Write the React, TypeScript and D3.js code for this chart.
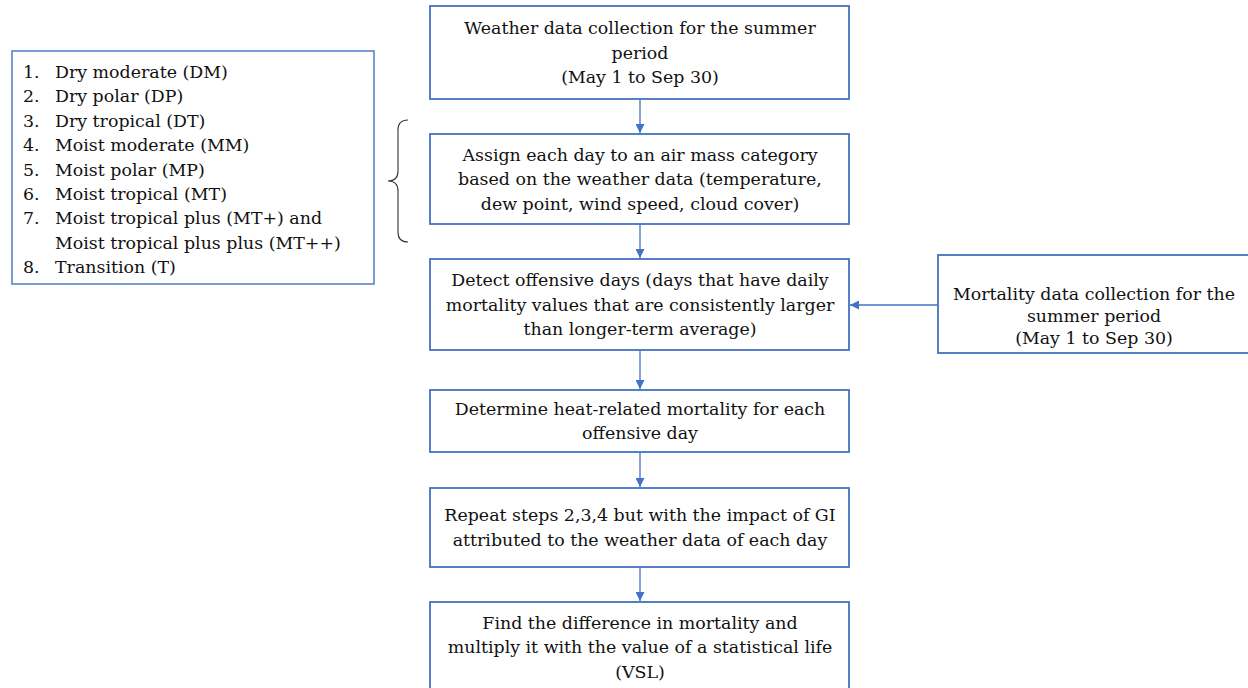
import React, { useEffect, useRef } from 'react';
import * as d3 from 'd3';

// flow steps (center column), one entry per box, lines as drawn
const stepLines: string[][] = [
  ['Weather data collection for the summer', 'period', '(May 1 to Sep 30)'],
  ['Assign each day to an air mass category', 'based on the weather data (temperature,', 'dew point, wind speed, cloud cover)'],
  ['Detect offensive days (days that have daily', 'mortality values that are consistently larger', 'than longer-term average)'],
  ['Determine heat-related mortality for each', 'offensive day'],
  ['Repeat steps 2,3,4 but with the impact of GI', 'attributed to the weather data of each day'],
  ['Find the difference in mortality and', 'multiply it with the value of a statistical life', '(VSL)'],
];

// side input box
const mortalityLines: string[] = ['Mortality data collection for the', 'summer period', '(May 1 to Sep 30)'];

// air mass categories
const listNums: string[] = ['1.', '2.', '3.', '4.', '5.', '6.', '7.', '', '8.'];
const listItems: string[] = [
  'Dry moderate (DM)',
  'Dry polar (DP)',
  'Dry tropical (DT)',
  'Moist moderate (MM)',
  'Moist polar (MP)',
  'Moist tropical (MT)',
  'Moist tropical plus (MT+) and',
  'Moist tropical plus plus (MT++)',
  'Transition (T)',
];

// box tops / bottoms of the center column
const stepTop = [6, 134, 259, 390, 488, 602];
const stepBottom = [99, 224, 350, 452, 567, 700];

const W = 1248;
const H = 688;
const BLUE = '#4472C4';
const FONT = "'DejaVu Serif', 'Liberation Serif', serif";
const FS = 17.4;

const App = () => {
  const ref = useRef<SVGSVGElement>(null);

  useEffect(() => {
    if (!ref.current) return;
    const svg = d3.select(ref.current);
    svg.selectAll('*').remove();

    svg.append('rect').attr('width', W).attr('height', H).attr('fill', '#fff');

    const defs = svg.append('defs');
    defs.append('marker')
      .attr('id', 'arr')
      .attr('viewBox', '0 0 10 10')
      .attr('refX', 10)
      .attr('refY', 5)
      .attr('markerWidth', 9)
      .attr('markerHeight', 9)
      .attr('markerUnits', 'userSpaceOnUse')
      .attr('orient', 'auto')
      .append('path')
      .attr('d', 'M0,0 L10,5 L0,10 Z')
      .attr('fill', BLUE);

    const cx = 640;
    const boxX0 = 430;
    const boxX1 = 849;
    const lh = 24.5;

    // connectors
    for (let i = 0; i < stepLines.length - 1; i++) {
      svg.append('line')
        .attr('x1', cx).attr('x2', cx)
        .attr('y1', stepBottom[i]).attr('y2', stepTop[i + 1] - 1)
        .attr('stroke', BLUE).attr('stroke-width', 1.3)
        .attr('marker-end', 'url(#arr)');
    }

    // center boxes
    const g = svg.selectAll('g.step')
      .data(stepLines)
      .enter()
      .append('g')
      .attr('class', 'step');

    g.append('rect')
      .attr('x', boxX0)
      .attr('y', (d, i) => stepTop[i])
      .attr('width', boxX1 - boxX0)
      .attr('height', (d, i) => stepBottom[i] - stepTop[i])
      .attr('fill', '#fff')
      .attr('stroke', BLUE)
      .attr('stroke-width', 1.8);

    g.each(function (lines, i) {
      const mid = i === 5 ? 647 : (stepTop[i] + stepBottom[i]) / 2;
      const y0 = mid - ((lines.length - 1) * lh) / 2;
      d3.select(this).selectAll('text')
        .data(lines)
        .enter()
        .append('text')
        .attr('x', cx)
        .attr('y', (l, j) => y0 + j * lh)
        .attr('dy', '0.35em')
        .attr('text-anchor', 'middle')
        .attr('font-family', FONT)
        .attr('font-size', FS)
        .attr('fill', '#111')
        .text(l => l);
    });

    // mortality box
    const mx0 = 938;
    const my0 = 255;
    const my1 = 353;
    svg.append('rect')
      .attr('x', mx0).attr('y', my0)
      .attr('width', W - mx0 + 10).attr('height', my1 - my0)
      .attr('fill', '#fff').attr('stroke', BLUE).attr('stroke-width', 1.8);
    const mlh = 22;
    svg.selectAll('text.mort')
      .data(mortalityLines)
      .enter()
      .append('text')
      .attr('class', 'mort')
      .attr('x', 1094)
      .attr('y', (l, j) => 294 + j * mlh)
      .attr('dy', '0.35em')
      .attr('text-anchor', 'middle')
      .attr('font-family', FONT)
      .attr('font-size', FS)
      .attr('fill', '#111')
      .text(l => l);

    svg.append('line')
      .attr('x1', mx0).attr('x2', boxX1 + 1)
      .attr('y1', 305).attr('y2', 305)
      .attr('stroke', BLUE).attr('stroke-width', 1.3)
      .attr('marker-end', 'url(#arr)');

    // category list box
    svg.append('rect')
      .attr('x', 12).attr('y', 51)
      .attr('width', 362).attr('height', 233)
      .attr('fill', '#fff').attr('stroke', '#5B84C9').attr('stroke-width', 1.6);

    const ly = d3.scaleLinear().domain([0, listItems.length - 1]).range([72, 267]);
    svg.selectAll('text.num')
      .data(listNums)
      .enter()
      .append('text')
      .attr('class', 'num')
      .attr('x', 23)
      .attr('y', (d, i) => ly(i))
      .attr('dy', '0.35em')
      .attr('font-family', FONT)
      .attr('font-size', FS)
      .attr('fill', '#111')
      .text(d => d);
    svg.selectAll('text.item')
      .data(listItems)
      .enter()
      .append('text')
      .attr('class', 'item')
      .attr('x', 55)
      .attr('y', (d, i) => ly(i))
      .attr('dy', '0.35em')
      .attr('font-family', FONT)
      .attr('font-size', FS)
      .attr('fill', '#111')
      .text(d => d);

    // brace
    svg.append('path')
      .attr('d', 'M408,120 Q398,120 398,130 L398,171 Q398,181 388,181 Q398,181 398,191 L398,232 Q398,242 408,242')
      .attr('fill', 'none')
      .attr('stroke', '#333')
      .attr('stroke-width', 1.1);
  }, []);

  return (
    <svg ref={ref} width={W} height={H} style={{ position: 'absolute', left: 0, top: 0 }} />
  );
};

export default App;
